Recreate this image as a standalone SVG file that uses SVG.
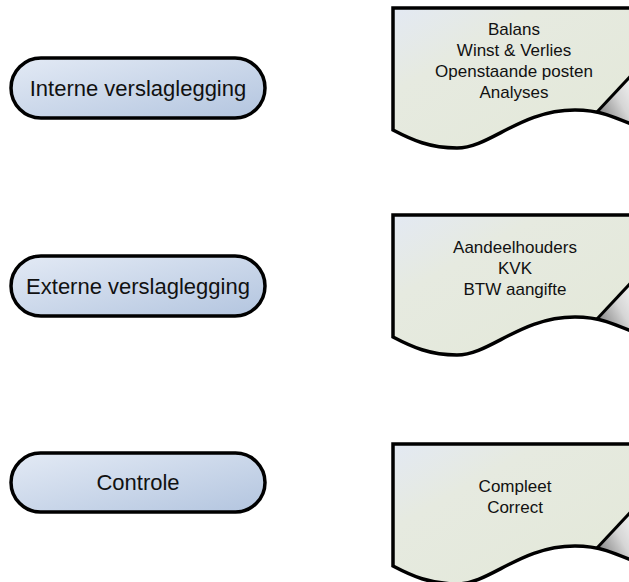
<svg xmlns="http://www.w3.org/2000/svg" width="629" height="582" viewBox="0 0 629 582">
<defs>
<linearGradient id="pillG" x1="0" y1="0" x2="1" y2="1">
<stop offset="0" stop-color="#e3eaf5"/>
<stop offset="1" stop-color="#b3c5df"/>
</linearGradient>
<linearGradient id="docG" x1="0" y1="0" x2="1" y2="1">
<stop offset="0" stop-color="#e3e9f3"/>
<stop offset="0.3" stop-color="#e6eae0"/>
<stop offset="1" stop-color="#e3e8d8"/>
</linearGradient>
<linearGradient id="curlG" gradientUnits="userSpaceOnUse" x1="600" y1="112" x2="640" y2="90">
<stop offset="0" stop-color="#8c8c8c"/>
<stop offset="0.5" stop-color="#d6d6d6"/>
<stop offset="1" stop-color="#f4f4f4"/>
</linearGradient>
<g id="docShape">
<path d="M393,8 L640,8 L640,128 C 615,117 600,110 575,110 C 520,110 490,148 457,148 C 430,148 412,140 393,130 Z" fill="url(#docG)" stroke="none"/>
<path d="M597,112 L640,66 L640,128 C 625,120 610,114 597,112 Z" fill="url(#curlG)"/>
<path d="M597,112 L640,66" fill="none" stroke="#000" stroke-width="3"/>
<path d="M640,128 C 615,117 600,110 575,110 C 520,110 490,148 457,148 C 430,148 412,140 393,130 L393,8 L640,8" fill="none" stroke="#000" stroke-width="3.5" stroke-linejoin="miter"/>
</g>
</defs>
<style>
.pill{fill:url(#pillG);stroke:#000;stroke-width:3.5}
.pt{font-family:"Liberation Sans",Arial,sans-serif;font-size:22px;fill:#111;text-anchor:middle}
.dt{font-family:"Liberation Sans",Arial,sans-serif;font-size:17px;fill:#111;text-anchor:middle}
</style>
<g id="interne">
<rect class="pill" x="11" y="58" width="254" height="60" rx="30" ry="30"/>
<text class="pt" x="138" y="96">Interne verslaglegging</text>
</g>
<g id="externe">
<rect class="pill" x="11" y="256" width="254" height="60" rx="30" ry="30"/>
<text class="pt" x="138" y="294">Externe verslaglegging</text>
</g>
<g id="controle">
<rect class="pill" x="11" y="453" width="254" height="59" rx="29.5" ry="29.5"/>
<text class="pt" x="138" y="490">Controle</text>
</g>
<g id="doc-interne">
<use href="#docShape"/>
<text class="dt" x="514" y="35">Balans</text>
<text class="dt" x="514" y="56">Winst &amp; Verlies</text>
<text class="dt" x="514" y="77">Openstaande posten</text>
<text class="dt" x="514" y="98">Analyses</text>
</g>
<g id="doc-externe">
<use href="#docShape" transform="translate(0,207)"/>
<text class="dt" x="515" y="253">Aandeelhouders</text>
<text class="dt" x="515" y="274">KVK</text>
<text class="dt" x="515" y="295">BTW aangifte</text>
</g>
<g id="doc-controle">
<use href="#docShape" transform="translate(0,436)"/>
<text class="dt" x="515" y="492">Compleet</text>
<text class="dt" x="515" y="513">Correct</text>
</g>
</svg>
